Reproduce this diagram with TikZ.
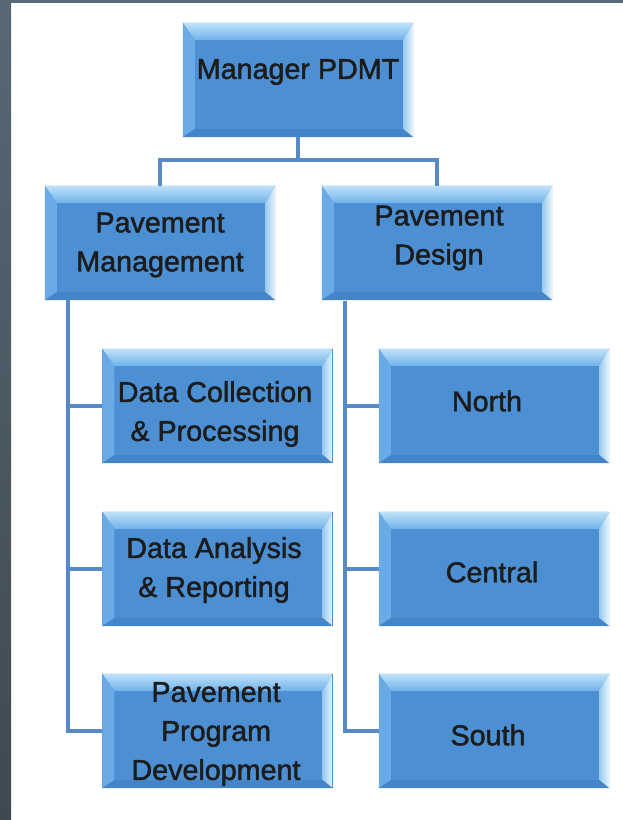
\documentclass[tikz,border=0pt]{standalone}
\usepackage{fontspec}
\newfontfamily\boxfont[FakeBold=1.6]{Liberation Sans}
\usepackage{tikz}

\definecolor{framea}{RGB}{88,104,116}
\definecolor{frameb}{RGB}{62,74,82}
\definecolor{boxface}{RGB}{76,144,211}
\definecolor{bevtopa}{RGB}{190,226,249}
\definecolor{bevtopb}{RGB}{112,178,234}
\definecolor{bevleft}{RGB}{106,170,230}
\definecolor{bevright}{RGB}{150,202,240}
\definecolor{bevbottom}{RGB}{68,133,202}
\definecolor{connblue}{RGB}{88,138,198}
\definecolor{boxtext}{RGB}{28,28,28}

\begin{document}
\begin{tikzpicture}[
    x=0.025cm,y=-0.025cm,
    box/.style={minimum width=5.75cm, minimum height=2.85cm, inner sep=0pt, outer sep=0pt, fill=boxface,
      path picture={
        \coordinate (a) at (path picture bounding box.north west);
        \coordinate (b) at (path picture bounding box.north east);
        \coordinate (c) at (path picture bounding box.south east);
        \coordinate (d) at (path picture bounding box.south west);
        \coordinate (ai) at ([shift={(0.3cm,-0.425cm)}]a);
        \coordinate (bi) at ([shift={(-0.25cm,-0.425cm)}]b);
        \coordinate (ci) at ([shift={(-0.25cm,0.2cm)}]c);
        \coordinate (di) at ([shift={(0.3cm,0.2cm)}]d);
        \fill[top color=bevtopa, bottom color=bevtopb] (a) -- (b) -- (bi) -- (ai) -- cycle;
        \fill[bevleft] (a) -- (ai) -- (di) -- (d) -- cycle;
        \fill[left color=bevright, right color=white!80!bevright] (b) -- (c) -- (ci) -- (bi) -- cycle;
        \fill[bevbottom] (d) -- (di) -- (ci) -- (c) -- cycle;
      }},
    txt/.style={font=\boxfont\fontsize{20.4}{27.7}\selectfont, text=boxtext, align=center, inner sep=0pt},
    conn/.style={draw=connblue, line width=2.4pt}
  ]
    \useasboundingbox (0,0) rectangle (623,820);
    \fill[white] (0,0) rectangle (623,820);
    % slide frame
    \fill[top color=framea, bottom color=frameb] (0,0) rectangle (11,820);
    \fill[framea] (0,0) rectangle (623,3);

    % boxes
    \node[box] (mgr) at (298,80) {};
    \node[box] (pm) at (160,243) {};
    \node[box] (pd) at (437,243) {};
    \node[box] (dc) at (217.5,406) {};
    \node[box] (da) at (217.5,569) {};
    \node[box] (ppd) at (217.5,731) {};
    \node[box] (north) at (494,406) {};
    \node[box] (central) at (494,569) {};
    \node[box] (south) at (494,731) {};

    \node[txt] (mgr-t) at (298,72) {Manager PDMT};
    \node[txt] (pm-t) at (160,245) {Pavement\\Management};
    \node[txt] (pd-t) at (439,238) {Pavement\\Design};
    \node[txt] (dc-t) at (215,414) {Data Collection\\\& Processing};
    \node[txt] (da-t) at (214,570) {Data Analysis\\\& Reporting};
    \node[txt] (ppd-t) at (216,734) {Pavement\\Program\\Development};
    \node[txt] (north-t) at (487,401) {North};
    \node[txt] (central-t) at (492,572) {Central};
    \node[txt] (south-t) at (488,735) {South};

    % connectors
    \coordinate (split) at (298,160);
    \draw[conn] (mgr.south) -- (split);
    \draw[conn] (pm.north) |- (split) -| (pd.north);

    \coordinate (ltrunk) at (68,300);
    \draw[conn] (ltrunk) |- (ppd.west);
    \draw[conn] (ltrunk |- dc.west) -- (dc.west);
    \draw[conn] (ltrunk |- da.west) -- (da.west);

    \coordinate (rtrunk) at (345,301);
    \draw[conn] (rtrunk) |- (south.west);
    \draw[conn] (rtrunk |- north.west) -- (north.west);
    \draw[conn] (rtrunk |- central.west) -- (central.west);
  \end{tikzpicture}
\end{document}
